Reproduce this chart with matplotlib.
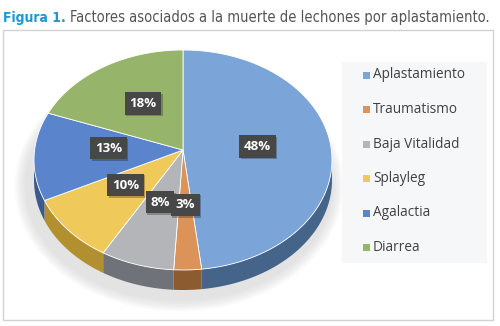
import matplotlib.pyplot as plt
import numpy as np
from matplotlib.patches import Polygon, Rectangle, Ellipse
from matplotlib import font_manager
from matplotlib.font_manager import FontProperties

# causes of piglet crushing deaths (percent)
categories = ['Aplastamiento', 'Traumatismo', 'Baja Vitalidad', 'Splayleg', 'Agalactia', 'Diarrea']
values = [48, 3, 8, 10, 13, 18]
top_colors = ['#7ba4d8', '#dc935a', '#b3b5b9', '#efc95a', '#5a84cb', '#97b46b']
side_colors = ['#45648a', '#8c5b2f', '#6f7379', '#b28f2f', '#3b5a90', '#65803f']

# pick the narrowest faces available for the heading
rank = {'ultra-condensed': 0, 'extra-condensed': 1, 'condensed': 2, 'semi-condensed': 3}
narrow_reg, narrow_bold = (9, None), (9, None)
for f in font_manager.fontManager.ttflist:
    st = str(f.stretch).lower()
    r = rank.get(st, 9)
    if r == 9 and ('condensed' in f.name.lower() or 'narrow' in f.name.lower()):
        r = 2
    if r == 9 or f.style != 'normal':
        continue
    w = f.weight if isinstance(f.weight, int) else {'bold': 700, 'normal': 400}.get(f.weight, 400)
    if w >= 600 and r < narrow_bold[0]:
        narrow_bold = (r, f.fname)
    elif 350 <= w < 500 and r < narrow_reg[0]:
        narrow_reg = (r, f.fname)
narrow_reg, narrow_bold = narrow_reg[1], narrow_bold[1]

def fp(fname, size, bold=False):
    if fname:
        return FontProperties(fname=fname, size=size)
    return FontProperties(family='Roboto', size=size, weight='bold' if bold else 'normal')

fig = plt.figure(figsize=(5.0, 3.26), dpi=100)
ax = fig.add_axes([0, 0, 1, 1])
ax.set_xlim(0, 500)
ax.set_ylim(326, 0)
ax.axis('off')

# title, shrunk until it fits the line
def fit(x, s, width, size, fname, bold, color):
    while True:
        t = ax.text(x, 22, s, color=color, va='baseline',
                    fontproperties=fp(fname, size, bold))
        fig.canvas.draw()
        w = t.get_window_extent().width
        if w <= width or size < 6:
            return t, w
        t.remove()
        size -= 0.25

t1, w1 = fit(3, 'Figura 1.', 64, 15.5, narrow_bold or narrow_reg, True, '#1b97d4')
fit(3 + w1 + 4, 'Factores asociados a la muerte de lechones por aplastamiento.',
    494 - (3 + w1 + 4), 14, narrow_reg, False, '#555555')

# frame
ax.add_patch(Rectangle((3, 30), 490, 290, fill=False, edgecolor='#d2d2d2', lw=1))

# pie geometry
cx, cy = 183, 160
rx, ry = 149, 110
depth = 20
apex = (183, 150)

# soft shadow under the pie
for k in range(8):
    ax.add_patch(Ellipse((cx - 4, cy + depth + 6), 2 * rx + 10 + k * 3, 2 * ry + 10 + k * 3,
                         facecolor='#9a9a9a', alpha=0.035, edgecolor='none', zorder=1))

def arc(t0, t1, n=80, dy=0):
    t = np.radians(np.linspace(t0, t1, n))
    return np.column_stack([cx + rx * np.cos(t), cy - ry * np.sin(t) + dy])

fracs = np.array(values) / sum(values)
starts = 90 - 360 * np.concatenate([[0], np.cumsum(fracs)[:-1]])
ends = starts - 360 * fracs

# side walls (front half only)
for s, e, sc in zip(starts, ends, side_colors):
    lo, hi = max(e, -180), min(s, 0)
    if hi > lo:
        top = arc(hi, lo)
        bot = arc(lo, hi, dy=depth)
        ax.add_patch(Polygon(np.vstack([top, bot]), closed=True, facecolor=sc,
                             edgecolor='none', zorder=2))

# top faces
for s, e, tc in zip(starts, ends, top_colors):
    pts = np.vstack([[apex], arc(s, e)])
    ax.add_patch(Polygon(pts, closed=True, facecolor=tc, edgecolor='white', lw=0.6, zorder=3))

# value labels
order = [0, 2, 1, 3, 4, 5]
for i in order:
    mid = np.radians((starts[i] + ends[i]) / 2)
    lx = apex[0] + 0.5 * rx * np.cos(mid)
    ly = apex[1] - 0.5 * ry * np.sin(mid)
    z = 6 if i == 1 else 5
    ax.text(lx + 1.5, ly + 1.5, f'{values[i]}%', fontsize=9.5, fontweight='bold', color='none',
            ha='center', va='center', family='Open Sans', zorder=z,
            bbox=dict(boxstyle='square,pad=0.35', facecolor='#000000', alpha=0.25, edgecolor='none'))
    ax.text(lx, ly, f'{values[i]}%', fontsize=9.5, fontweight='bold', color='white',
            ha='center', va='center', family='Open Sans', zorder=z,
            bbox=dict(boxstyle='square,pad=0.35', facecolor='#474747', edgecolor='none'))

# legend
ax.add_patch(Rectangle((342, 62), 145, 201, facecolor='#f6f7f9', edgecolor='none', zorder=1))
for j, (name, col) in enumerate(zip(categories, top_colors)):
    ly = 75 + j * 34.5
    ax.add_patch(Rectangle((363, ly - 3.5), 7, 7, facecolor=col, edgecolor='none', zorder=2))
    ax.text(373, ly, name, fontsize=9.8, color='#404040', va='center', family='Open Sans', zorder=2)

fig.savefig('out.png', dpi=100)
